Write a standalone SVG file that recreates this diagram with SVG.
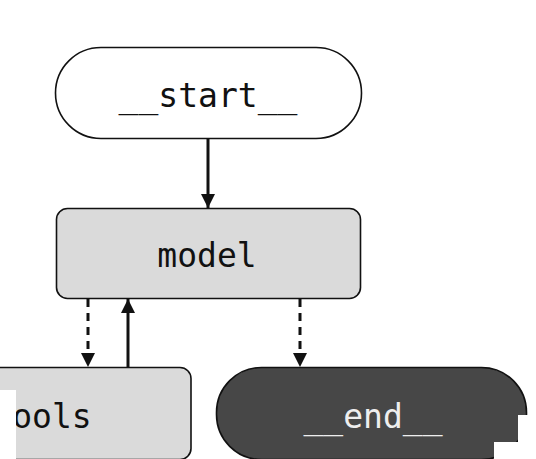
<svg xmlns="http://www.w3.org/2000/svg" width="536" height="459" viewBox="0 0 536 459">
<defs>
<marker id="ah" viewBox="0 0 14 14" refX="14" refY="7" markerWidth="14" markerHeight="14" markerUnits="userSpaceOnUse" orient="auto">
<path d="M0,0 L14,7 L0,14 Z" fill="#111"/>
</marker>
<style>
.node{stroke:#111;stroke-width:1.6}
.lbl{font-family:"DejaVu Sans Mono","Liberation Mono",monospace;font-size:33px;text-anchor:middle}
.edge{stroke:#111;stroke-width:3;fill:none}
.dash{stroke-dasharray:8 6}
</style>
</defs>
<rect width="536" height="459" fill="#fff"/>
<g id="start">
<rect class="node" x="55.5" y="47.5" width="306" height="91" rx="45.5" fill="#fff"/>
<text class="lbl" x="208" y="107" fill="#111">__start__</text>
</g>
<g id="model">
<rect class="node" x="56.5" y="208.5" width="304" height="90" rx="11" fill="#dadada"/>
<text class="lbl" x="207" y="267" fill="#111">model</text>
</g>
<g id="tools">
<rect class="node" x="-113" y="367.5" width="304" height="92" rx="11" fill="#dadada"/>
<text class="lbl" x="42" y="428" fill="#111">tools</text>
</g>
<g id="end">
<rect class="node" x="216.5" y="367.5" width="310" height="92" rx="45" fill="#474747"/>
<text class="lbl" x="373" y="428" fill="#eee">__end__</text>
</g>
<g id="edges">
<path class="edge" d="M208,139 V208" marker-end="url(#ah)"/>
<path class="edge dash" d="M88,299 V367" marker-end="url(#ah)"/>
<path class="edge" d="M128,367 V299" marker-end="url(#ah)"/>
<path class="edge dash" d="M300,299 V367" marker-end="url(#ah)"/>
</g>
<g id="masks" fill="#fff">
<rect x="0" y="390" width="16" height="69"/>
<rect x="518" y="415" width="18" height="44"/>
<rect x="494" y="442" width="42" height="17"/>
</g>
</svg>
